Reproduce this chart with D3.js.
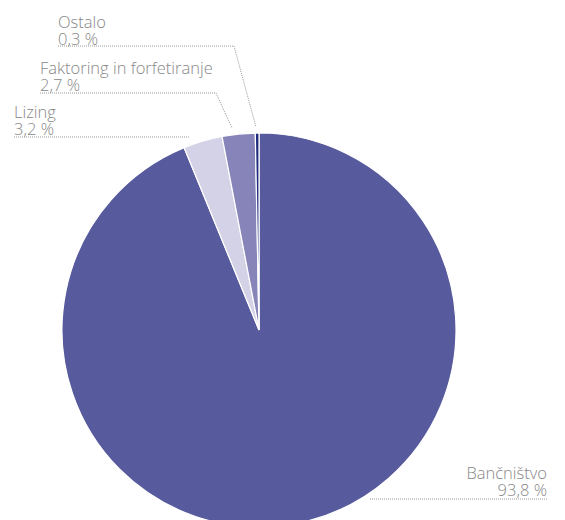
<!DOCTYPE html>
<html>
<head>
<meta charset="utf-8">
<script src="https://cdn.jsdelivr.net/npm/d3@7"></script>
<style>
  body { margin: 0; background: #fff; }
  svg { display: block; }
</style>
</head>
<body>
<svg id="chart"></svg>
<script>
// data
const categories = ["Bančništvo", "Lizing", "Faktoring in forfetiranje", "Ostalo"];
const values = [93.8, 3.2, 2.7, 0.3];
const valueLabels = ["93,8 %", "3,2 %", "2,7 %", "0,3 %"];
const colors = ["#575a9c", "#d3d2e6", "#8784ba", "#1f2b7e"];

const width = 565, height = 520;
const cx = 259, cy = 330, radius = 197;

// label placement (x, baseline of first line, anchor, leader elbow / end)
const labelPos = [
  { x: 547, y: 479, anchor: "end", lineX1: 370, lineX2: 547, lineY: 499, tip: null },
  { x: 14, y: 118, anchor: "start", lineX1: 14, lineX2: 190, lineY: 137, tip: null },
  { x: 40, y: 74, anchor: "start", lineX1: 40, lineX2: 216, lineY: 93, tip: [232, 128] },
  { x: 58, y: 28, anchor: "start", lineX1: 58, lineX2: 234, lineY: 46, tip: [256, 127] }
];

const svg = d3.select("#chart")
  .attr("width", width)
  .attr("height", height);

const pie = d3.pie().sort(null).value(d => d);
const arc = d3.arc().innerRadius(0).outerRadius(radius);
const arcs = pie(values);

// slices
svg.append("g")
  .attr("transform", `translate(${cx}, ${cy})`)
  .selectAll("path")
  .data(arcs)
  .enter()
  .append("path")
  .attr("d", arc)
  .attr("fill", (d, i) => colors[i])
  .attr("stroke", "#fff")
  .attr("stroke-width", 1.2);

// leader lines
const leaders = svg.append("g")
  .attr("fill", "none")
  .attr("stroke", "#9a9a9a")
  .attr("stroke-width", 1)
  .attr("stroke-dasharray", "1,1");

labelPos.forEach(p => {
  const pts = [[p.lineX1, p.lineY], [p.lineX2, p.lineY]];
  if (p.tip) pts.push(p.tip);
  leaders.append("path").attr("d", d3.line()(pts));
});

// labels
const labels = svg.append("g")
  .style("font-family", "'Open Sans', sans-serif")
  .style("font-weight", 300)
  .style("font-size", "16.5px")
  .attr("fill", "#878787");

categories.forEach((c, i) => {
  const p = labelPos[i];
  labels.append("text")
    .attr("x", p.x).attr("y", p.y)
    .attr("text-anchor", p.anchor)
    .text(c);
  labels.append("text")
    .attr("x", p.x).attr("y", p.y + 16.5)
    .attr("text-anchor", p.anchor)
    .text(valueLabels[i]);
});
</script>
</body>
</html>
